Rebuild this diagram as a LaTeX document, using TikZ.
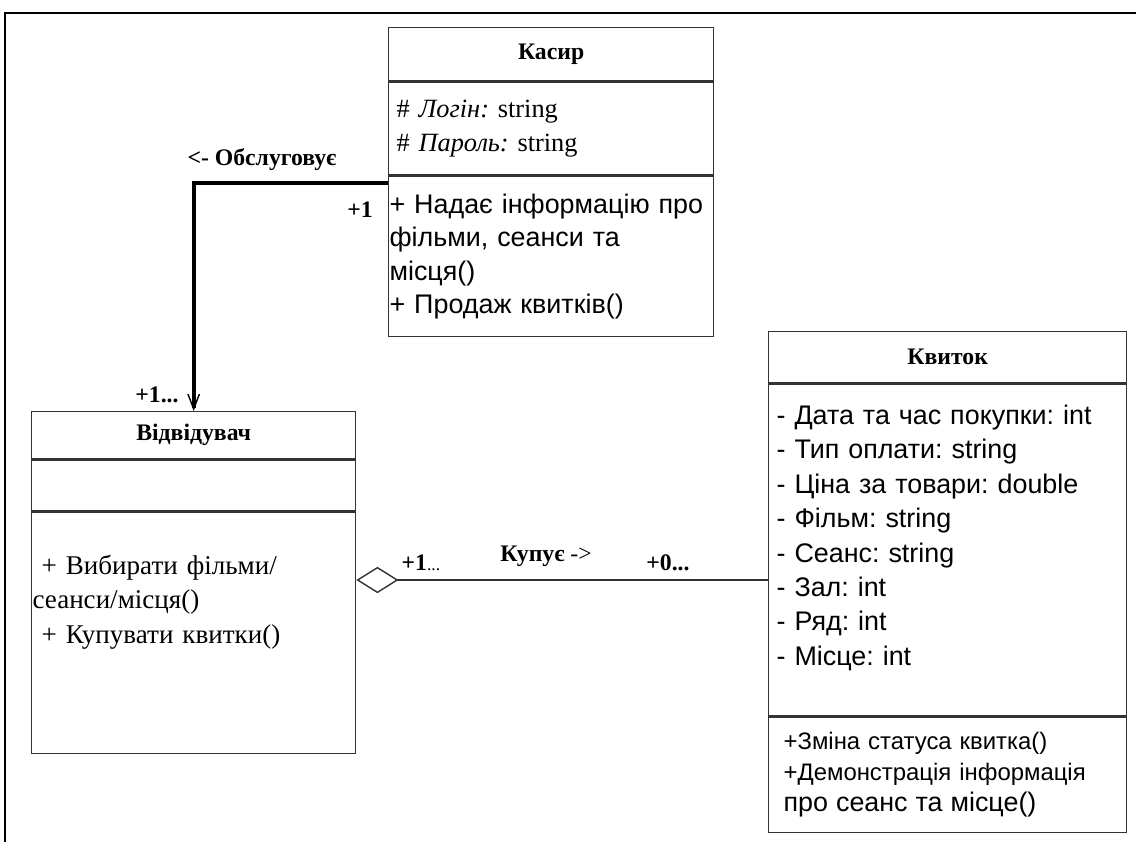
\documentclass[tikz,border=0pt]{standalone}
\usepackage{fontspec}
\setmainfont{Liberation Serif}
\newfontfamily\arialfont{Liberation Sans}
\usetikzlibrary{positioning, arrows.meta}
\frenchspacing

\begin{document}
\begin{tikzpicture}[x=0.02cm, y=-0.02cm,
    box/.style={draw=black!80, line width=0.8pt, inner ysep=0pt},
    title/.style={box, font=\bfseries\fontsize{13.5}{16}\selectfont},
    comp/.style={box, align=left},
    lbl/.style={font=\bfseries\fontsize{13.5}{16}\selectfont, inner sep=1pt},
    serve/.style={line width=2.3pt, -{Straight Barb[length=8.5pt, width=6.5pt, line width=0.8pt]}},
    aggr/.style={line width=0.8pt, draw=black!80, {Diamond[open, fill=white, length=24pt, width=15pt, line width=0.8pt]}-}]
        \useasboundingbox (0,0) rectangle (1136,842);
        \draw[line width=1.2pt] (1136,13) -- (5,13) -- (5,842);

        % Касир
        \node[title, minimum width=6.5cm, minimum height=1.06cm, anchor=north west] (kasir) at (388,27) {Касир};
        \node[comp, below=0pt of kasir, minimum height=1.86cm, inner xsep=4.5pt, text width=6.5cm-9pt,
            font=\fontsize{15}{19.8}\selectfont] (kasir-a) {\# \textit{Логін:} string\\ \# \textit{Пароль:} string};
        \node[comp, below=0pt of kasir-a, minimum height=3.2cm, inner xsep=0.5pt, text width=6.5cm-1pt,
            font=\arialfont\fontsize{15.3}{19}\selectfont] (kasir-o) {+ Надає інформацію про\\ фільми, сеанси та\\ місця()\\ + Продаж квитків()};

        % Відвідувач
        \node[title, minimum width=6.48cm, minimum height=0.94cm, anchor=north west] (vis) at (31,411) {Відвідувач};
        \node[comp, below=0pt of vis, minimum width=6.48cm, minimum height=1.02cm] (vis-a) {};
        \node[comp, below=0pt of vis-a, minimum height=4.82cm, inner xsep=0.5pt, text width=6.48cm-1pt,
            font=\fontsize{15.4}{19.6}\selectfont] (vis-o) {\ + Вибирати фільми/\\ сеанси/місця()\\ \ + Купувати квитки()\\[19pt]~};

        % Квиток
        \node[title, minimum width=7.16cm, minimum height=1.02cm, anchor=north west] (kv) at (768,331) {Квиток};
        \node[comp, below=0pt of kv, minimum height=6.64cm, inner xsep=4.5pt, text width=7.16cm-9pt,
            font=\arialfont\fontsize{15.3}{19.6}\selectfont] (kv-a) {- Дата та час покупки: int\\ - Тип оплати: string\\
            - Ціна за товари: double\\ - Фільм: string\\ - Сеанс: string\\ - Зал: int\\ - Ряд: int\\ - Місце: int\\[-2.6pt]~};
        \node[comp, below=0pt of kv-a, minimum height=2.3cm, inner xsep=8.5pt, text width=7.16cm-17pt,
            font=\arialfont\fontsize{13.6}{17.6}\selectfont] (kv-o) {+Зміна статуса квитка()\\ +Демонстрація інформація\\
            {\fontsize{15.3}{17.6}\selectfont про сеанс та місце()}};

        % зв'язки
        \coordinate (buy) at (0,580);
        \draw[serve] ([yshift=-4pt]kasir-o.north west) -| (vis.north);
        \draw[aggr] (vis-o.east |- buy) -- (kv-a.west |- buy);

        \node[lbl] (serve-lbl) at (262,160) {<- Обслуговує};
        \node[lbl] (serve-m1) at (360,210) {+1};
        \node[lbl] (serve-m2) at (157,395) {+1...};
        \node[lbl] (buy-lbl) at (546,556) {Купує {\mdseries->}};
        \node[lbl] (buy-m1) at (421,563) {+1{\mdseries\fontsize{10}{10}\selectfont...}};
        \node[lbl] (buy-m2) at (668,563) {+0...};
\end{tikzpicture}
\end{document}
